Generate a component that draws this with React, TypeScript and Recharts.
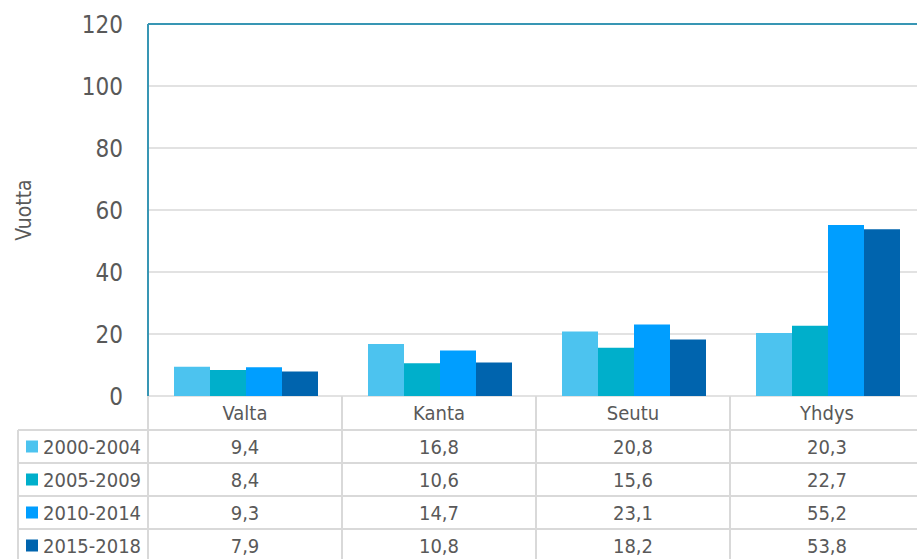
import React from 'react';
import { BarChart, Bar, XAxis, YAxis, CartesianGrid, ReferenceLine } from 'recharts';

const categories = ['Valta', 'Kanta', 'Seutu', 'Yhdys'];
const seriesNames = ['2000-2004', '2005-2009', '2010-2014', '2015-2018'];
const values2000 = [9.4, 16.8, 20.8, 20.3];
const values2005 = [8.4, 10.6, 15.6, 22.7];
const values2010 = [9.3, 14.7, 23.1, 55.2];
const values2015 = [7.9, 10.8, 18.2, 53.8];
const yTicks = [0, 20, 40, 60, 80, 100, 120];

const seriesValues = [values2000, values2005, values2010, values2015];
const colors = ['#4cc3ef', '#00afcb', '#009eff', '#0064ae'];

const data = categories.map((name, i) => ({
  name,
  s0: values2000[i],
  s1: values2005[i],
  s2: values2010[i],
  s3: values2015[i],
}));

const FONT = "'DejaVu Sans Condensed', 'DejaVu Sans', sans-serif";
const TEXT = '#595959';
const GRID = '#d9d9d9';
const TEAL = '#3896b4';

const CHART_W = 940;
const CHART_H = 559;
const Y_AXIS_W = 148;
const MARGIN_RIGHT = 16;
const X_AXIS_H = 163;
const BAND = (CHART_W - Y_AXIS_W - MARGIN_RIGHT) / categories.length;
const HEADER_H = 34;
const ROW_H = 33;
const LEGEND_W = 130;

const fmt = (v: number) => v.toFixed(1).replace('.', ',');

// x-axis ticks double as the data table under the plot
const TableTick = (props: any) => {
  const { x, y, payload, index } = props;
  const left = x - BAND / 2;
  const right = x + BAND / 2;
  const rows = seriesNames.map((_, r) => y + HEADER_H + r * ROW_H);
  return (
    <g fontFamily={FONT}>
      <line x1={left} y1={y} x2={left} y2={y + X_AXIS_H} stroke={GRID} strokeWidth={2} />
      {index === categories.length - 1 && (
        <line x1={right} y1={y} x2={right} y2={y + X_AXIS_H} stroke={GRID} strokeWidth={2} />
      )}
      <text x={x} y={y + HEADER_H / 2} textAnchor="middle" dominantBaseline="central" fontSize={20} fill={TEXT}>
        {payload.value}
      </text>
      {rows.map((ry, r) => (
        <g key={r}>
          <line x1={left} y1={ry} x2={right} y2={ry} stroke={GRID} strokeWidth={2} />
          <text x={x} y={ry + ROW_H / 2} textAnchor="middle" dominantBaseline="central" fontSize={20} fill={TEXT}>
            {fmt(seriesValues[r][index])}
          </text>
        </g>
      ))}
      {index === 0 && (
        <g>
          <line x1={left - LEGEND_W} y1={rows[0]} x2={left - LEGEND_W} y2={y + X_AXIS_H} stroke={GRID} strokeWidth={2} />
          {rows.map((ry, r) => (
            <g key={r}>
              <line x1={left - LEGEND_W} y1={ry} x2={left} y2={ry} stroke={GRID} strokeWidth={2} />
              <rect x={left - LEGEND_W + 8} y={ry + ROW_H / 2 - 6} width={12} height={12} fill={colors[r]} />
              <text x={left - LEGEND_W + 25} y={ry + ROW_H / 2} dominantBaseline="central" fontSize={20} fill={TEXT}>
                {seriesNames[r]}
              </text>
            </g>
          ))}
        </g>
      )}
    </g>
  );
};

const YLabel = (props: any) => {
  const { viewBox } = props;
  const cy = viewBox.y + viewBox.height / 2;
  return (
    <text x={31} y={cy} transform={`rotate(-90, 31, ${cy})`} textAnchor="middle" fontSize={21} fill={TEXT} fontFamily={FONT}>
      Vuotta
    </text>
  );
};

const App = () => {
  return (
    <div style={{ width: 917, height: 559, overflow: 'hidden', background: '#fff' }}>
      <style>{'body { margin: 0; }'}</style>
      <BarChart
        width={CHART_W}
        height={CHART_H}
        data={data}
        margin={{ top: 24, right: MARGIN_RIGHT, bottom: 0, left: 0 }}
        barCategoryGap={26}
        barGap={0}
      >
        <CartesianGrid vertical={false} stroke={GRID} strokeWidth={1.5} />
        <XAxis
          dataKey="name"
          height={X_AXIS_H}
          axisLine={false}
          tickLine={false}
          tickSize={0}
          tickMargin={0}
          interval={0}
          tick={<TableTick />}
        />
        <YAxis
          width={Y_AXIS_W}
          domain={[0, 120]}
          ticks={yTicks}
          axisLine={{ stroke: TEAL, strokeWidth: 2 }}
          tickLine={false}
          tickSize={0}
          tickMargin={25}
          tick={{ fontSize: 24, fill: TEXT, fontFamily: FONT }}
          label={<YLabel />}
        />
        <ReferenceLine y={120} stroke={TEAL} strokeWidth={2} />
        {seriesNames.map((name, i) => (
          <Bar key={name} dataKey={`s${i}`} name={name} fill={colors[i]} isAnimationActive={false} />
        ))}
      </BarChart>
    </div>
  );
};

export default App;
